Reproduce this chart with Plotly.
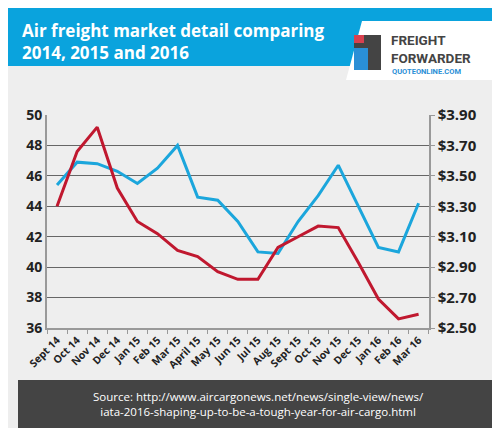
import plotly.graph_objects as go
from plotly.subplots import make_subplots

months = ["Sept 14", "Oct 14", "Nov 14", "Dec 14", "Jan 15", "Feb 15", "Mar 15",
          "April 15", "May 15", "Jun 15", "Jul 15", "Aug 15", "Sept 15", "Oct 15",
          "Nov 15", "Dec 15", "Jan 16", "Feb 16", "Mar 16"]
# blue series, left axis
volume = [45.4, 46.9, 46.8, 46.3, 45.5, 46.5, 48.0, 44.6, 44.4, 43.0, 41.0, 40.9,
          43.0, 44.7, 46.7, 44.0, 41.3, 41.0, 44.2]
# red series, right axis ($)
price = [3.30, 3.66, 3.82, 3.42, 3.20, 3.12, 3.01, 2.97, 2.87, 2.82, 2.82, 3.03,
         3.10, 3.17, 3.16, 2.93, 2.69, 2.56, 2.59]
left_ticks = [36, 38, 40, 42, 44, 46, 48, 50]
right_ticks = [2.50, 2.70, 2.90, 3.10, 3.30, 3.50, 3.70, 3.90]

W, H = 500, 428
L, R, T, B = 39, 55, 107, 108
pw, ph = W - L - R, H - T - B

def px(x):
    return (x - L) / pw

def py(y):
    return 1 - (y - T) / ph

def box(x0, y0, x1, y1, color, layer="above"):
    return dict(type="rect", xref="paper", yref="paper", x0=px(x0), x1=px(x1),
                y0=py(y1), y1=py(y0), fillcolor=color, line_width=0, layer=layer)

fig = make_subplots(specs=[[{"secondary_y": True}]])
fig.add_trace(go.Scatter(x=months, y=volume, mode="lines",
                         line=dict(color="#1ba6dc", width=3)), secondary_y=False)
fig.add_trace(go.Scatter(x=months, y=price, mode="lines",
                         line=dict(color="#c0182f", width=3)), secondary_y=True)

shapes = [
    box(0, 0, W, 58, "#0aa3dd", "below"),
    dict(type="path", xref="paper", yref="paper",
         path="M %f %f L %f %f L %f %f L %f %f Z" % (px(338), py(72), px(354), py(13),
                                                      px(W), py(13), px(W), py(72)),
         fillcolor="white", line_width=0, layer="below"),
    box(346, 27, 373, 62, "#444444"),
    box(346, 40, 360, 62, "#2a8fd6"),
    box(346, 27, 356, 35, "#d8404f"),
    box(10, 372, 490, 420, "#444444", "below"),
]

annotations = [
    dict(text="<b>Air freight market detail comparing<br>2014, 2015 and 2016</b>",
         xref="paper", yref="paper", x=px(12), y=py(9), xanchor="left", yanchor="top",
         align="left", showarrow=False, font=dict(size=17, color="white", family="Open Sans")),
    dict(text="<b>FREIGHT<br>FORWARDER</b>", xref="paper", yref="paper", x=px(381), y=py(41),
         xanchor="left", yanchor="middle", align="left", showarrow=False,
         font=dict(size=13.5, color="#444444", family="Roboto")),
    dict(text="<b>QUOTEONLINE.COM</b>", xref="paper", yref="paper", x=px(382), y=py(64),
         xanchor="left", yanchor="middle", showarrow=False,
         font=dict(size=7.5, color="#2a8fd6", family="Roboto")),
    dict(text="Source: http://www.aircargonews.net/news/single-view/news/<br>"
              "iata-2016-shaping-up-to-be-a-tough-year-for-air-cargo.html",
         xref="paper", yref="paper", x=px(250), y=py(396), xanchor="center", yanchor="middle",
         showarrow=False, font=dict(size=11.5, color="white", family="Open Sans")),
]

fig.update_layout(
    width=W, height=H, margin=dict(l=L, r=R, t=T, b=B),
    paper_bgcolor="#eeeeee", plot_bgcolor="#eeeeee", showlegend=False,
    shapes=shapes, annotations=annotations,
    font=dict(family="Open Sans", color="#222222"),
)
fig.update_xaxes(tickangle=-45, tickvals=months, ticktext=["<b>%s</b>" % m for m in months],
                 tickfont=dict(size=10.5, color="#222222", family="Open Sans"),
                 showgrid=False, showline=True, linecolor="#999999", linewidth=2,
                 ticks="outside", tickson="boundaries", ticklen=4, tickcolor="#999999",
                 range=[-0.5, 18.5])
fig.update_yaxes(range=[36, 50], tickvals=left_ticks,
                 ticktext=["<b>%d</b>" % v for v in left_ticks],
                 showgrid=True, gridcolor="#666666",
                 gridwidth=1.3, showline=True, linecolor="#999999", linewidth=2, zeroline=False,
                 tickfont=dict(size=14, color="#222222"), secondary_y=False)
fig.update_yaxes(range=[2.5, 3.9], tickvals=right_ticks,
                 ticktext=["<b>$%.2f</b>" % v for v in right_ticks], showgrid=False,
                 showline=True, linecolor="#999999", linewidth=2, zeroline=False,
                 ticks="outside", ticklen=4, tickcolor="#999999",
                 tickfont=dict(size=15, color="#222222"), secondary_y=True)

fig.write_html("out.html")
